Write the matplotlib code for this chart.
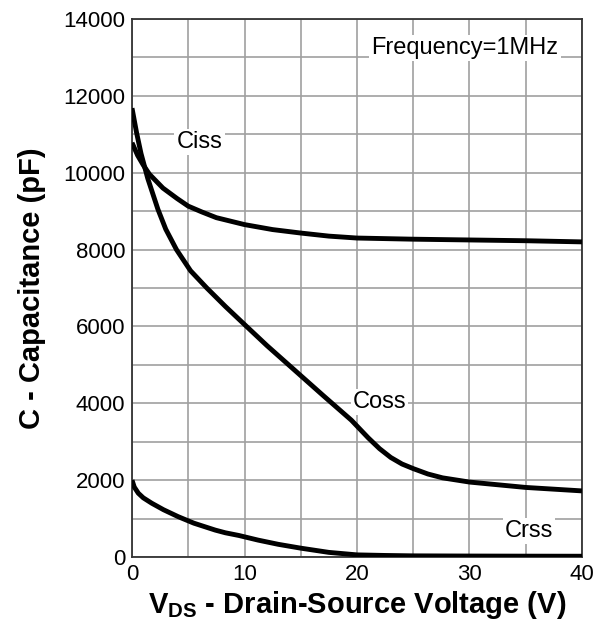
import matplotlib
matplotlib.use("Agg")
import matplotlib.pyplot as plt
import numpy as np

plt.rcParams['font.family'] = ['Liberation Sans', 'DejaVu Sans']
plt.rcParams['mathtext.fontset'] = 'custom'
plt.rcParams['mathtext.rm'] = 'Liberation Sans'
plt.rcParams['mathtext.bf'] = 'Liberation Sans:bold'

ciss_v = [0, 0.5, 1.0, 1.55, 2.75, 4, 5, 6.2, 7.5, 10, 12.5, 15, 17.5, 20, 25, 30, 35, 40]
ciss_c = [10780, 10450, 10200, 9960, 9600, 9330, 9130, 8980, 8830, 8650, 8520, 8430, 8350, 8300, 8270, 8250, 8230, 8200]

coss_v = [0, 0.4, 0.8, 1.4, 2.3, 3.0, 3.95, 5.2, 6.65, 8.3, 10, 12, 14, 15, 17, 19.5, 21, 22, 23, 24, 25, 26.3, 27.6, 30, 35, 40]
coss_c = [11680, 11050, 10500, 9850, 9050, 8530, 8000, 7450, 7000, 6520, 6050, 5500, 4980, 4720, 4200, 3560, 3100, 2820, 2590, 2420, 2300, 2160, 2060, 1950, 1810, 1720]

crss_v = [0, 0.2, 0.56, 1.0, 1.75, 2.8, 4.1, 5.5, 7.4, 8.3, 9.5, 11.2, 13, 15, 17.5, 20, 22.5, 25, 30, 35, 40]
crss_c = [2000, 1820, 1660, 1540, 1400, 1230, 1050, 880, 700, 630, 560, 440, 330, 230, 120, 55, 40, 30, 25, 22, 20]

xticks = [0, 10, 20, 30, 40]
yticks = [0, 2000, 4000, 6000, 8000, 10000, 12000, 14000]

fig = plt.figure(figsize=(5.96, 6.25), dpi=100)
ax = fig.add_axes([0.2215, 0.1088, 0.755, 0.8608])

for v, c in [(ciss_v, ciss_c), (coss_v, coss_c), (crss_v, crss_c)]:
    ax.plot(v, c, color='black', lw=3.5, solid_capstyle='butt', solid_joinstyle='round', zorder=3)

ax.set_xlim(0, 40)
ax.set_ylim(0, 14000)
ax.set_xticks(xticks)
ax.set_yticks(yticks)
ax.set_xticks(np.arange(0, 41, 5), minor=True)
ax.set_yticks(np.arange(0, 14001, 1000), minor=True)
ax.grid(which='both', color='#a0a0a0', lw=1.2, zorder=0)
ax.tick_params(which='both', length=0, labelsize=16, pad=5)
for s in ax.spines.values():
    s.set_color('#333333')
    s.set_linewidth(1.3)

bbox = dict(facecolor='white', edgecolor='none', pad=1.5)
ax.text(6.0, 10800, 'Ciss', fontsize=17, ha='center', va='center', bbox=bbox, zorder=2)
ax.text(22.0, 4030, 'Coss', fontsize=17, ha='center', va='center', bbox=bbox, zorder=2)
ax.text(35.3, 680, 'Crss', fontsize=17, ha='center', va='center', bbox=bbox, zorder=2)
ax.text(29.6, 13250, 'Frequency=1MHz', fontsize=17, ha='center', va='center', bbox=bbox, zorder=2)

ax.set_xlabel(r'V$_{\mathbf{DS}}$ - Drain-Source Voltage (V)', fontsize=21, fontweight='bold', labelpad=3)
ax.set_ylabel('C - Capacitance (pF)', fontsize=21, fontweight='bold', labelpad=12)

fig.savefig('out.png', dpi=100)
